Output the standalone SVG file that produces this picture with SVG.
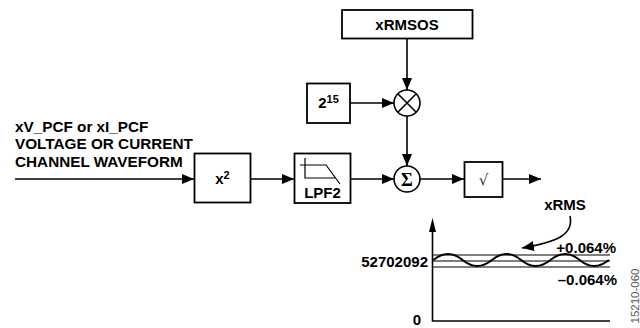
<svg xmlns="http://www.w3.org/2000/svg" width="640" height="328" viewBox="0 0 640 328">
<style>
.box{fill:#fff;stroke:#000;stroke-width:1.8}
.ln{fill:none;stroke:#000;stroke-width:1.6}
.thin{fill:none;stroke:#000;stroke-width:1.2}
.t{font-family:"Liberation Sans",Arial,sans-serif;font-weight:bold;font-size:15px;fill:#000}
.in{font-size:15.3px}
</style>
<defs>
<marker id="ah" markerUnits="userSpaceOnUse" markerWidth="12" markerHeight="10" viewBox="0 0 12 10" refX="12" refY="5" orient="auto">
<path d="M0,0 L12,5 L0,10 Z" fill="#000"/>
</marker>
</defs>
<g id="connectors">
<path class="ln" d="M15,179 H194" marker-end="url(#ah)"/>
<path class="ln" d="M251,179 H294" marker-end="url(#ah)"/>
<path class="ln" d="M351,179 H394" marker-end="url(#ah)"/>
<path class="ln" d="M407,39 V90" marker-end="url(#ah)"/>
<path class="ln" d="M350,103 H394" marker-end="url(#ah)"/>
<path class="ln" d="M407,116 V166" marker-end="url(#ah)"/>
<path class="ln" d="M420,179 H464" marker-end="url(#ah)"/>
<path class="ln" d="M503,179 H541" marker-end="url(#ah)"/>
</g>
<g id="input-label">
<text class="t in" x="15" y="131.5">xV_PCF or xI_PCF</text>
<text class="t in" x="15" y="149">VOLTAGE OR CURRENT</text>
<text class="t in" x="15" y="166.5">CHANNEL WAVEFORM</text>
</g>
<g id="square">
<rect class="box" x="194.5" y="153.5" width="56" height="49"/>
<text class="t" x="222.5" y="184" text-anchor="middle">x<tspan dy="-5" font-size="11">2</tspan></text>
</g>
<g id="lpf2">
<rect class="box" x="294.5" y="153.5" width="56" height="49.5"/>
<path class="thin" d="M300,165 H326 L340,184 M305,158 V178 H336" stroke-width="1.4"/>
<text class="t" x="322.5" y="198" text-anchor="middle" font-size="14">LPF2</text>
</g>
<g id="xrmsos">
<rect class="box" x="342" y="10" width="130.5" height="28.5"/>
<text class="t" x="407" y="30" text-anchor="middle">xRMSOS</text>
</g>
<g id="pow215">
<rect class="box" x="307" y="83.5" width="43" height="39.5"/>
<text class="t" x="328.5" y="108" text-anchor="middle">2<tspan dy="-5" font-size="11">15</tspan></text>
</g>
<g id="multiplier">
<circle class="ln" cx="407" cy="103" r="13" fill="#fff"/>
<path class="ln" d="M397.8,93.8 L416.2,112.2 M416.2,93.8 L397.8,112.2"/>
</g>
<g id="sum">
<circle class="ln" cx="407" cy="179" r="13" fill="#fff"/>
<text x="407" y="185.5" text-anchor="middle" font-family="Liberation Serif,serif" font-weight="bold" font-size="18">Σ</text>
</g>
<g id="sqrt">
<rect class="box" x="464.5" y="162" width="38" height="35"/>
<text x="483.5" y="185" text-anchor="middle" font-family="DejaVu Sans,sans-serif" font-size="15" fill="#333">√</text>
</g>
<g id="graph">
<path class="ln" d="M432.5,230 V321 H610"/>
<path d="M432.5,218 L436,232 L429,232 Z" fill="#000"/>
<path class="thin" d="M432.5,255 H610 M432.5,261 H610 M432.5,267 H610"/>
<path fill="none" stroke="#000" stroke-width="2" d="M433.4,260 Q448,248 462.6,260 T491.9,260 T521.1,260 T550.4,260 T579.6,260 T608.9,260"/>
<text class="t" x="428" y="267" text-anchor="end">52702092</text>
<text class="t" x="421" y="325" text-anchor="end">0</text>
<text class="t" x="616" y="253" text-anchor="end">+0.064%</text>
<text class="t" x="617" y="285" text-anchor="end">–0.064%</text>
<text class="t" x="565" y="210" text-anchor="middle">xRMS</text>
<path class="ln" d="M570,216 C574,234 558,242 522,248" marker-end="url(#ah)"/>
</g>
<text x="638.5" y="296" transform="rotate(-90 638.5 296)" text-anchor="middle" font-family="Liberation Sans,Arial,sans-serif" font-size="11.5" fill="#555">15210-060</text>
</svg>
